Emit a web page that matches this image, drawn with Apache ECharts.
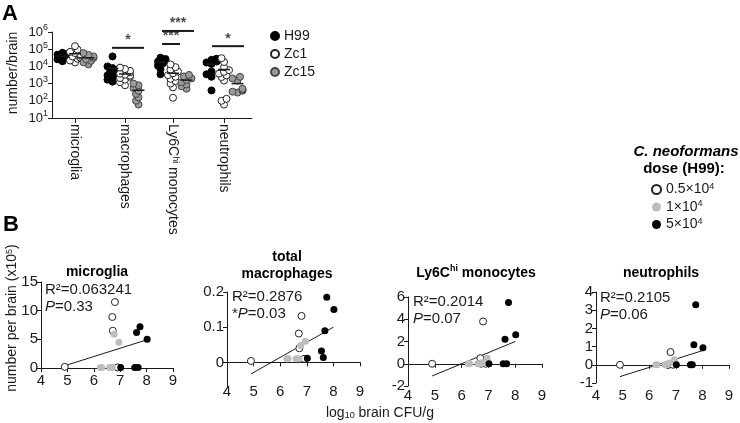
<!DOCTYPE html>
<html>
<head>
<meta charset="utf-8">
<script src="https://cdn.jsdelivr.net/npm/echarts@6/dist/echarts.min.js"></script>
<style>
  html, body { margin: 0; padding: 0; background: #fff; }
  #chart { width: 740px; height: 423px; }
</style>
</head>
<body>
<div id="chart"></div>
<script>
var FONT = 'Arial, "Liberation Sans", Helvetica, sans-serif';
var INK = '#1a1a1a';

// ---- panel A: cell counts per brain (log scale)
var cellTypes = ['microglia', 'macrophages', 'Ly6C{s|hi} monocytes', 'neutrophils'];
var cellPos = [0.46, 1.46, 2.42, 3.44];
var strains = ['H99', 'Zc1', 'Zc15'];
var strainShift = [-0.25, 0, 0.27];
var h99Counts = [
  [20000, 26000, 30000, 33000, 36000, 40000, 44000, 48000, 55000, 62000],
  [1300, 1700, 2300, 3000, 3800, 4600, 5500, 6500, 8000, 10000, 38000],
  [3500, 7000, 11000, 15000, 19000, 23000, 27000, 32000],
  [400, 2500, 3500, 5000, 14000, 17000, 19000, 21000, 24000, 28000]
];
var zc1Counts = [
  [17000, 22000, 28000, 33000, 38000, 42000, 47000, 52000, 60000, 70000, 95000, 150000],
  [800, 1200, 1700, 2100, 2500, 2900, 3300, 3800, 4500, 5500, 7000, 8500],
  [150, 600, 1000, 1400, 1900, 2500, 3100, 4000, 5000, 6500, 9000, 13000],
  [60, 100, 130, 1500, 2400, 3000, 3800, 4800, 6000, 9000, 18000, 30000]
];
var zc15Counts = [
  [13000, 17000, 21000, 26000, 31000, 38000, 46000, 60000],
  [60, 100, 160, 250, 380, 550, 800, 1000],
  [500, 700, 900, 1200, 1600, 2000, 2600, 3200],
  [300, 340, 390, 440, 500, 1500, 2000, 2500]
];
var sigBars = [
  { cell: 1, from: -0.26, to: 0.38, level: 1.2e5, mark: '*' },
  { cell: 2, from: -0.22, to: 0.42, level: 1.15e6, mark: '***' },
  { cell: 2, from: -0.22, to: 0.14, level: 2.0e5, mark: '***' },
  { cell: 3, from: -0.24, to: 0.40, level: 1.5e5, mark: '*' }
];

// ---- panel B: number per brain (x10^5) vs log10 brain CFU/g
var doses = ['0.5×10^4', '1×10^4', '5×10^4'];
var cfuLow = [4.9, 6.7, 6.72, 6.8, 6.9];
var cfuMid = [6.25, 6.3, 6.6, 6.7, 6.77, 6.95];
var cfuHigh = [7.02, 7.55, 7.62, 7.68, 7.75, 8.02];

var microgliaLow = [0.2, 8.9, 6.5, 11.5, 0.1];
var microgliaMid = [0.1, 0.1, 0.1, 0.1, 5.9, 4.5];
var microgliaHigh = [0.1, 0.1, 6.2, 0.1, 7.2, 5.0];
var microgliaFit = [[4.9, 0.4], [8.0, 4.9]];

var macroLow = [0.004, 0.082, 0.04, 0.132, 0.01];
var macroMid = [0.01, 0.01, 0.01, 0.01, 0.048, 0.06];
var macroHigh = [0.012, 0.032, 0.014, 0.09, 0.185, 0.15];
var macroFit = [[4.9, -0.033], [8.0, 0.1]];

var monoLow = [0, 0.5, 0, 3.8, 0];
var monoMid = [0, 0, 0, 0, 0.1, 0.5];
var monoHigh = [0, 0, 2.2, 0, 5.5, 2.6];
var monoFit = [[4.9, -1.1], [8.0, 2.0]];

var neutroLow = [0, 0, 0, 0.7, 0];
var neutroMid = [0, 0, 0, 0.05, 0.1, 0.28];
var neutroHigh = [0, 0, 0, 1.1, 3.3, 0.93];
var neutroFit = [[4.9, -0.65], [8.05, 0.8]];

var panelsB = [
  { title: 'microglia', tx: 97, ty: 272, grid: { left: 41, top: 282, width: 132, height: 86 },
    yMin: 0, yMax: 15, yStep: 5, gap: 5, sx: 45, sy: 290, r2: '0.063241', p: '{i|P}=0.33',
    low: microgliaLow, mid: microgliaMid, high: microgliaHigh, fit: microgliaFit },
  { title: 'total\nmacrophages', tx: 287, ty: 266, grid: { left: 227, top: 292, width: 133, height: 95 },
    yMin: -0.07, yMax: 0.2, yTicks: [0, 0.1, 0.2], gap: -3, sx: 232, sy: 297, r2: '0.2876', p: '*{i|P}=0.03',
    low: macroLow, mid: macroMid, high: macroHigh, fit: macroFit },
  { title: 'Ly6C{s|hi} monocytes', tx: 476, ty: 273, grid: { left: 408, top: 297, width: 134, height: 89 },
    yMin: -2, yMax: 6, yStep: 2, gap: 2, sx: 413, sy: 302, r2: '0.2014', p: '{i|P}=0.07',
    low: monoLow, mid: monoMid, high: monoHigh, fit: monoFit },
  { title: 'neutrophils', tx: 661, ty: 273, grid: { left: 596, top: 292, width: 133, height: 91 },
    yMin: -1, yMax: 4, yStep: 1, gap: 5, sx: 600, sy: 298, r2: '0.2105', p: '{i|P}=0.06',
    low: neutroLow, mid: neutroMid, high: neutroHigh, fit: neutroFit }
];

var supRich = {
  s: { fontSize: 9, lineHeight: 9, verticalAlign: 'top', fontFamily: FONT, color: INK },
  b: { fontSize: 13, lineHeight: 17, fontFamily: FONT, color: INK }
};

// little beeswarm so dots of one group do not sit on top of each other
function swarm(vals, cx) {
  var placed = [];
  return vals.slice().sort(function (a, b) { return a - b; }).map(function (v) {
    var ly = Math.log10(v) * 17.2;
    var steps = [0, -1, 1, -2, 2];
    var px = 0;
    for (var k = 0; k < steps.length; k++) {
      px = steps[k] * 2.5;
      var free = placed.every(function (p) { return Math.hypot(p[0] - px, p[1] - ly) >= 4; });
      if (free) break;
    }
    placed.push([px, ly]);
    return [cx + px / 50, v];
  });
}
function mean(arr) {
  return arr.reduce(function (a, b) { return a + b; }, 0) / arr.length;
}

var strainData = [h99Counts, zc1Counts, zc15Counts];
var strainStyle = [
  { color: '#000', borderColor: '#000', borderWidth: 1, opacity: 1 },
  { color: '#fff', borderColor: '#222', borderWidth: 1, opacity: 1 },
  { color: '#9a9a9a', borderColor: '#444', borderWidth: 1, opacity: 1 }
];
var doseStyle = [
  { color: '#fff', borderColor: '#222', borderWidth: 1, opacity: 1 },
  { color: '#bdbdbd', borderColor: '#bdbdbd', borderWidth: 0, opacity: 1 },
  { color: '#000', borderColor: '#000', borderWidth: 0, opacity: 1 }
];

var grids = [{ left: 52, top: 32, width: 200, height: 86 }];
var xAxes = [{
  type: 'value', gridIndex: 0, min: 0, max: 4,
  axisLine: { lineStyle: { color: INK } },
  axisTick: { customValues: cellPos, length: 5, lineStyle: { color: INK } },
  axisLabel: {
    customValues: cellPos, rotate: -90, margin: 6, fontSize: 14, color: INK, fontFamily: FONT,
    rich: { s: { fontSize: 9, verticalAlign: 'top', lineHeight: 9 } },
    formatter: function (v) {
      var best = 0;
      cellPos.forEach(function (p, i) { if (Math.abs(p - v) < Math.abs(cellPos[best] - v)) best = i; });
      return cellTypes[best];
    }
  },
  splitLine: { show: false }
}];
var yAxes = [{
  type: 'log', logBase: 10, gridIndex: 0, min: 10, max: 1000000,
  axisLine: { show: true, lineStyle: { color: INK } },
  axisTick: { show: true, length: 4, lineStyle: { color: INK } },
  axisLabel: {
    margin: 4, rich: supRich,
    formatter: function (v) { return '{b|10}{s|' + Math.round(Math.log10(v)) + '}'; }
  },
  splitLine: { show: false }, minorTick: { show: false }
}];

var series = [];
strains.forEach(function (name, s) {
  var pts = [];
  strainData[s].forEach(function (vals, c) {
    pts = pts.concat(swarm(vals, cellPos[c] + strainShift[s]));
  });
  series.push({
    name: name, type: 'scatter', xAxisIndex: 0, yAxisIndex: 0,
    symbol: 'circle', symbolSize: 7, itemStyle: strainStyle[s], data: pts, z: 3
  });
  series.push({
    type: 'scatter', xAxisIndex: 0, yAxisIndex: 0, symbol: 'rect', symbolSize: [12, 1.5],
    itemStyle: { color: INK, opacity: 1 }, z: 4, silent: true,
    data: strainData[s].map(function (vals, c) { return [cellPos[c] + strainShift[s], mean(vals)]; })
  });
});
sigBars.forEach(function (b) {
  var x0 = cellPos[b.cell] + b.from, x1 = cellPos[b.cell] + b.to;
  series.push({
    type: 'line', xAxisIndex: 0, yAxisIndex: 0, clip: false, symbol: 'none',
    lineStyle: { color: INK, width: 2 }, data: [[x0, b.level], [x1, b.level]]
  });
  series.push({
    type: 'scatter', xAxisIndex: 0, yAxisIndex: 0, clip: false, symbolSize: 1,
    itemStyle: { color: 'rgba(0,0,0,0)' },
    label: { show: true, position: 'top', distance: 0, formatter: b.mark, fontSize: 14, fontWeight: 'bold', color: INK, fontFamily: FONT },
    data: [[(x0 + x1) / 2, b.level]]
  });
});

var graphics = [
  { type: 'text', left: 2, top: 3, style: { text: 'A', font: 'bold 22px ' + FONT, fill: '#000' } },
  { type: 'text', left: 3, top: 214, style: { text: 'B', font: 'bold 22px ' + FONT, fill: '#000' } },
  { type: 'text', x: 13, y: 73, rotation: Math.PI / 2,
    style: { text: 'number/brain', align: 'center', verticalAlign: 'middle', font: '14px ' + FONT, fill: INK } },
  { type: 'text', x: 12, y: 318, rotation: Math.PI / 2,
    style: { text: 'number per brain (x10{s|5})', align: 'center', verticalAlign: 'middle', font: '14px ' + FONT, fill: INK,
      rich: { s: { fontSize: 9, lineHeight: 9, verticalAlign: 'top', fontFamily: FONT, fill: INK } } } },
  { type: 'text', x: 380, y: 413,
    style: { text: 'log{sub|10} brain CFU/g', align: 'center', verticalAlign: 'middle', font: '14px ' + FONT, fill: INK,
      rich: { sub: { fontSize: 9, lineHeight: 9, verticalAlign: 'bottom', fontFamily: FONT, fill: INK } } } },
  { type: 'text', x: 686, y: 152,
    style: { text: 'C. neoformans', align: 'center', verticalAlign: 'middle', font: 'italic bold 15px ' + FONT, fill: '#000' } },
  { type: 'text', x: 684, y: 169,
    style: { text: 'dose (H99):', align: 'center', verticalAlign: 'middle', font: 'bold 15px ' + FONT, fill: '#000' } }
];

panelsB.forEach(function (p, k) {
  var gi = k + 1;
  grids.push(p.grid);
  xAxes.push({
    type: 'value', gridIndex: gi, min: 4, max: 9, interval: 1,
    axisLine: { onZero: true, lineStyle: { color: INK } },
    axisTick: { length: 4, lineStyle: { color: INK } },
    axisLabel: { margin: p.gap, fontSize: 15, color: INK, fontFamily: FONT },
    splitLine: { show: false }
  });
  var ya = {
    type: 'value', gridIndex: gi, min: p.yMin, max: p.yMax,
    axisLine: { show: true, onZero: false, lineStyle: { color: INK } },
    axisTick: { show: true, length: 4, lineStyle: { color: INK } },
    axisLabel: { margin: 3, fontSize: 15, color: INK, fontFamily: FONT },
    splitLine: { show: false }
  };
  if (p.yTicks) {
    ya.axisTick.customValues = p.yTicks;
    ya.axisLabel.customValues = p.yTicks;
  } else {
    ya.interval = p.yStep;
  }
  yAxes.push(ya);

  var groups = [[cfuLow, p.low], [cfuMid, p.mid], [cfuHigh, p.high]];
  groups.forEach(function (g, d) {
    series.push({
      name: doses[d], type: 'scatter', xAxisIndex: gi, yAxisIndex: gi,
      symbol: 'circle', symbolSize: 7, itemStyle: doseStyle[d], z: 3,
      data: g[0].map(function (x, i) { return [x, g[1][i]]; })
    });
  });
  series.push({
    type: 'line', xAxisIndex: gi, yAxisIndex: gi, symbol: 'none', silent: true,
    lineStyle: { color: INK, width: 1 }, data: p.fit, z: 2
  });

  graphics.push({ type: 'text', x: p.tx, y: p.ty,
    style: { text: p.title, align: 'center', verticalAlign: 'middle', font: 'bold 14px ' + FONT, fill: '#000', lineHeight: 17,
      rich: { s: { fontSize: 9, lineHeight: 9, verticalAlign: 'top', fontWeight: 'bold', fontFamily: FONT, fill: '#000' } } } });
  graphics.push({ type: 'text', x: p.sx, y: p.sy,
    style: { text: 'R²=' + p.r2, verticalAlign: 'middle', font: '15px ' + FONT, fill: INK } });
  graphics.push({ type: 'text', x: p.sx, y: p.sy + 17,
    style: { text: p.p, verticalAlign: 'middle', font: '15px ' + FONT, fill: INK,
      rich: { i: { fontStyle: 'italic', fontSize: 15, fontFamily: FONT, fill: INK } } } });
});

var option = {
  animation: false,
  textStyle: { fontFamily: FONT, color: INK },
  grid: grids,
  xAxis: xAxes,
  yAxis: yAxes,
  legend: [{
    data: strains, orient: 'vertical', left: 270, top: 29, padding: 0, icon: 'circle',
    itemWidth: 8, itemHeight: 8, itemGap: 4, selectedMode: false,
    textStyle: { fontSize: 14, color: INK, fontFamily: FONT }
  }, {
    data: doses, orient: 'vertical', left: 651, top: 182, padding: 0, icon: 'circle',
    itemWidth: 9, itemHeight: 9, itemGap: 3, selectedMode: false,
    formatter: function (name) {
      var parts = name.split('^');
      return '{n|' + parts[0] + '}{s|' + parts[1] + '}';
    },
    textStyle: {
      fontSize: 14, color: INK, fontFamily: FONT,
      rich: {
        n: { fontSize: 14, lineHeight: 15, fontFamily: FONT, color: INK },
        s: { fontSize: 9, lineHeight: 9, verticalAlign: 'top', fontFamily: FONT, color: INK }
      }
    }
  }],
  graphic: graphics,
  series: series
};

var chart = echarts.init(document.getElementById('chart'));
chart.setOption(option);
</script>
</body>
</html>
